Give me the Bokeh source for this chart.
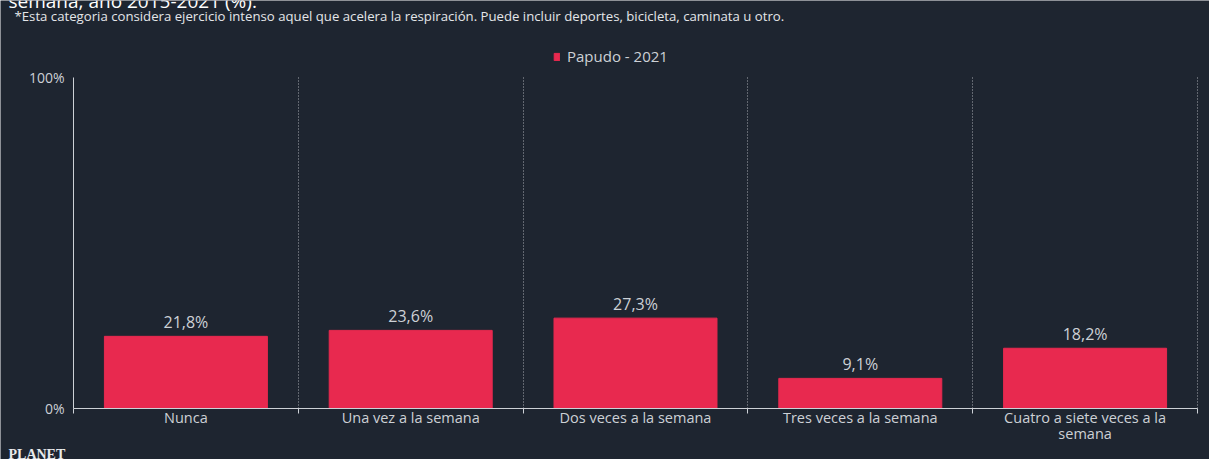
from bokeh.plotting import figure
from bokeh.models import (ColumnDataSource, FixedTicker, Label, Legend, LegendItem, Range1d)
from bokeh.core.properties import value
from bokeh.embed import file_html
from bokeh.resources import INLINE

categories = ["Nunca", "Una vez a la semana", "Dos veces a la semana",
              "Tres veces a la semana", "Cuatro a siete veces a la\nsemana"]
values = [21.8, 23.6, 27.3, 9.1, 18.2]
value_labels = ["21,8%", "23,6%", "27,3%", "9,1%", "18,2%"]
series_name = "Papudo - 2021"
y_ticks = [0, 100]
y_tick_labels = ["0%", "100%"]
title_text = "semana, año 2015-2021 (%)."
subtitle_text = ("*Esta categoria considera ejercicio intenso aquel que acelera la respiración. "
                 "Puede incluir deportes, bicicleta, caminata u otro.")
footer_text = "PLANET"

BG = "#1e2530"
BAR = "#e8294f"
TXT = "#cdd1d6"
FONT = "Open Sans"
W, H = 1209, 459

# pixel layout of the chart area (canvas pixels)
AX_L, AX_R, AX_T, AX_B = 73, 1197, 77, 408
n = len(categories)
ppx = (AX_R - AX_L) / n          # pixels per category
ppy = (AX_B - AX_T) / 100.0      # pixels per percent
def dx(px):
    return -0.5 + (px - AX_L) / ppx
def dy(py):
    return (AX_B - py) / ppy

xs = list(range(n))
src = ColumnDataSource(dict(x=xs, top=values, lab=value_labels))

p = figure(width=W, height=H, output_backend="svg", toolbar_location=None,
           x_range=Range1d(dx(0), dx(W)), y_range=Range1d(dy(H), dy(0)),
           min_border=0)
p.background_fill_color = BG
p.border_fill_color = BG
p.outline_line_color = None

r = p.vbar(x="x", top="top", width=0.725, source=src, color=BAR)
p.text(x="x", y="top", text="lab", source=src, text_align="center",
       text_baseline="bottom", y_offset=-3, text_color=TXT,
       text_font=value(FONT), text_font_size="16px")

# x axis (drawn at 0 %)
xa = p.xaxis[0]
xa.fixed_location = 0
xa.bounds = (-0.5, n - 0.5)
xa.ticker = FixedTicker(ticks=xs, minor_ticks=[i + 0.5 for i in range(-1, n)])
xa.major_label_overrides = {i: c for i, c in enumerate(categories)}
xa.major_tick_line_color = None
xa.major_tick_in = 0
xa.major_tick_out = 0
xa.minor_tick_line_color = TXT
xa.minor_tick_in = 0
xa.minor_tick_out = 5
xa.axis_line_color = TXT
xa.major_label_text_color = TXT
xa.major_label_text_font = FONT
xa.major_label_text_font_size = "14.5px"
xa.major_label_text_line_height = 0.85
xa.major_label_standoff = -6

# y axis (drawn at left edge of the categories)
ya = p.yaxis[0]
ya.fixed_location = -0.5
ya.bounds = (0, 100)
ya.ticker = FixedTicker(ticks=y_ticks)
ya.major_label_overrides = {t: l for t, l in zip(y_ticks, y_tick_labels)}
ya.major_tick_line_color = None
ya.major_tick_in = 0
ya.major_tick_out = 0
ya.minor_tick_line_color = None
ya.axis_line_color = TXT
ya.major_label_text_color = TXT
ya.major_label_text_font = FONT
ya.major_label_text_font_size = "14px"
ya.major_label_standoff = 9

p.ygrid.grid_line_color = None
p.xgrid.ticker = FixedTicker(ticks=[i + 0.5 for i in range(n)])
p.xgrid.cross_bounds = (0, 100)
p.xgrid.grid_line_color = "#c8ccd2"
p.xgrid.grid_line_dash = "1 2"
p.xgrid.grid_line_alpha = 0.8

legend = Legend(items=[LegendItem(label=series_name, renderers=[r])],
                location=(553, H - 66), orientation="horizontal",
                background_fill_alpha=0, border_line_color=None,
                label_text_color=TXT, label_text_font=FONT, label_text_font_size="15px",
                glyph_width=7, glyph_height=9, padding=0, margin=0, label_standoff=7)
p.add_layout(legend, "center")

p.add_layout(Label(x=dx(8), y=dy(0), text=title_text, text_color="#ffffff",
                   text_font=FONT, text_font_size="19px", text_baseline="alphabetic"))
p.add_layout(Label(x=dx(14), y=dy(15), text=subtitle_text, text_color="#e4e6e9",
                   text_font=FONT, text_font_size="13.2px", text_baseline="middle"))
p.add_layout(Label(x=dx(8), y=dy(446), text=footer_text, text_color="#e8eaec",
                   text_font="Liberation Serif", text_font_size="14px",
                   text_font_style="bold", text_baseline="top"))

open("out.html", "w").write(file_html(p, INLINE))
